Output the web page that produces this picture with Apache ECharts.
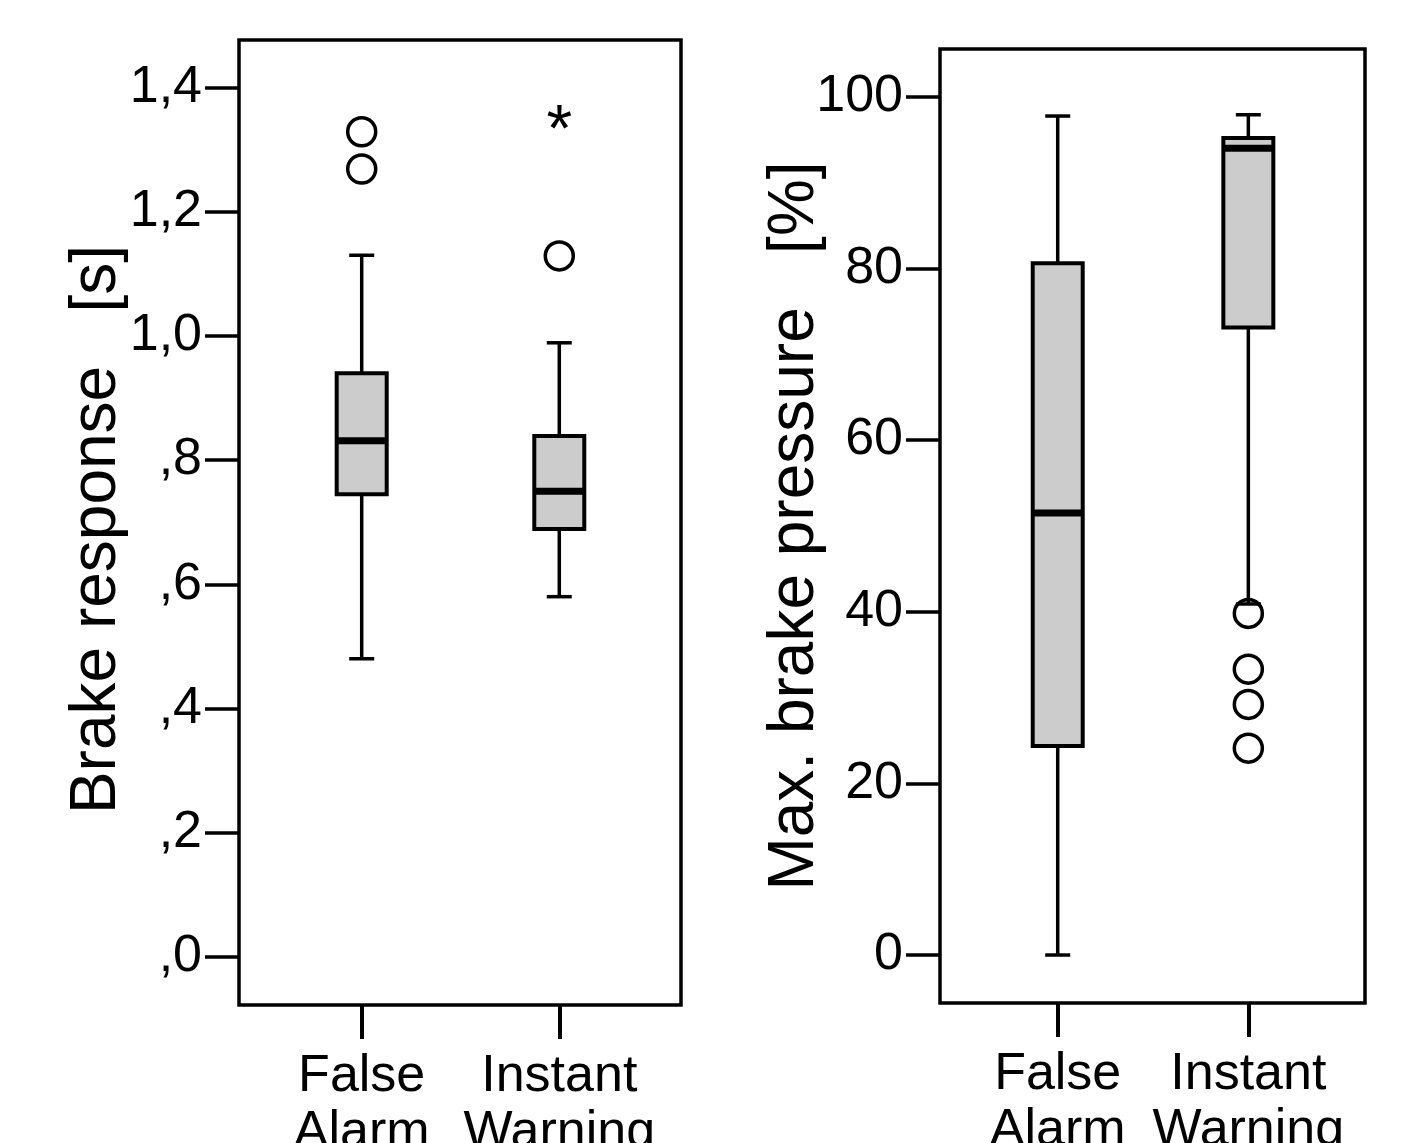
<!DOCTYPE html>
<html>
<head>
<meta charset="utf-8">
<script src="https://cdn.jsdelivr.net/npm/echarts@6/dist/echarts.min.js"></script>
<style>
html,body{margin:0;padding:0;background:#fff;}
#chart{width:1412px;height:1143px;}
</style>
</head>
<body>
<div id="chart"></div>
<script>
// ---- data ----
const categories = ['False\nAlarm', 'Instant\nWarning'];
// [min, Q1, median, Q3, max]
const responseBoxes = [
  [0.480, 0.745, 0.831, 0.940, 1.130],
  [0.580, 0.689, 0.750, 0.839, 0.989]
];
const responseOutliers = [[0, 1.329], [0, 1.269], [1, 1.129]];
const responseExtremes = [[1, 1.349]];
const responseTicks = [0, 0.2, 0.4, 0.6, 0.8, 1.0, 1.2, 1.4];
const responseTickLabels = [',0', ',2', ',4', ',6', ',8', '1,0', '1,2', '1,4'];

const pressureBoxes = [
  [0, 24.35, 51.5, 80.6, 97.75],
  [40.9, 73.1, 94.0, 95.2, 97.9]
];
const pressureOutliers = [[1, 39.8], [1, 33.3], [1, 29.2], [1, 24.1]];
const pressureTicks = [0, 20, 40, 60, 80, 100];
const pressureTickLabels = ['0', '20', '40', '60', '80', '100'];

const responseName = 'Brake response   [s]';
const pressureName = 'Max. brake pressure   [%]';

// ---- chart ----
const FONT = "'Liberation Sans', Arial, sans-serif";
const chart = echarts.init(document.getElementById('chart'), null, {renderer: 'canvas'});

function boxRender(params, api) {
  const x = api.value(0);
  const c = (v) => api.coord([x, v]);
  const cx = c(api.value(3))[0];
  const yMin = c(api.value(1))[1];
  const yQ1 = c(api.value(2))[1];
  const yMed = c(api.value(3))[1];
  const yQ3 = c(api.value(4))[1];
  const yMax = c(api.value(5))[1];
  const bw = 50, cw = 25;
  const ls = {stroke: '#000', lineWidth: 3.5};
  return {
    type: 'group',
    children: [
      {type: 'line', shape: {x1: cx, y1: yMax, x2: cx, y2: yQ3}, style: ls},
      {type: 'line', shape: {x1: cx, y1: yQ1, x2: cx, y2: yMin}, style: ls},
      {type: 'line', shape: {x1: cx - cw / 2, y1: yMax, x2: cx + cw / 2, y2: yMax}, style: ls},
      {type: 'line', shape: {x1: cx - cw / 2, y1: yMin, x2: cx + cw / 2, y2: yMin}, style: ls},
      {type: 'rect', shape: {x: cx - bw / 2, y: yQ3, width: bw, height: yQ1 - yQ3},
        style: {fill: '#cccccc', stroke: '#000', lineWidth: 4}},
      {type: 'line', shape: {x1: cx - bw / 2, y1: yMed, x2: cx + bw / 2, y2: yMed},
        style: {stroke: '#000', lineWidth: 7}}
    ]
  };
}

function xAxisCfg(gridIndex, min, max) {
  return {
    type: 'value', gridIndex, min, max,
    axisLine: {show: false, onZero: false},
    splitLine: {show: false},
    axisTick: {show: true, customValues: [0, 1], length: 34, lineStyle: {color: '#000', width: 4}},
    axisLabel: {
      show: true, customValues: [0, 1], margin: 44,
      formatter: (v) => categories[Math.round(v)],
      fontFamily: FONT, fontSize: 52, color: '#000', lineHeight: 56
    }
  };
}

function yAxisCfg(gridIndex, min, max, ticks, labels, name, gap, pad) {
  return {
    type: 'value', gridIndex, min, max,
    axisLine: {show: false, onZero: false},
    splitLine: {show: false},
    axisTick: {show: true, customValues: ticks, length: 34, lineStyle: {color: '#000', width: 3.5}},
    axisLabel: {
      show: true, customValues: ticks, margin: 37,
      formatter: (v) => {
        let best = 0;
        ticks.forEach((t, i) => { if (Math.abs(t - v) < Math.abs(ticks[best] - v)) best = i; });
        return labels[best];
      },
      fontFamily: FONT, fontSize: 52, color: '#000'
    },
    name, nameLocation: 'middle', nameRotate: 90, nameGap: gap, nameMoveOverlap: false,
    nameTextStyle: {fontFamily: FONT, fontSize: 64, color: '#000', padding: pad}
  };
}

const outlierStyle = {color: 'rgba(0,0,0,0)', borderColor: '#000', borderWidth: 3.5, opacity: 1};

const option = {
  backgroundColor: '#fff',
  animation: false,
  grid: [
    {left: 239, top: 40, width: 442, height: 965, show: true, borderColor: '#000', borderWidth: 3.5,
      backgroundColor: 'transparent', containLabel: false, outerBoundsMode: 'none'},
    {left: 940, top: 49, width: 425, height: 954, show: true, borderColor: '#000', borderWidth: 3.5,
      backgroundColor: 'transparent', containLabel: false, outerBoundsMode: 'none'}
  ],
  xAxis: [
    xAxisCfg(0, -0.621, 1.616),
    xAxisCfg(1, -0.6175, 1.612)
  ],
  yAxis: [
    yAxisCfg(0, -0.0778, 1.4768, responseTicks, responseTickLabels, responseName, 110, [0, 14, 0, 0]),
    yAxisCfg(1, -5.59, 105.56, pressureTicks, pressureTickLabels, pressureName, 113, [0, 0, 0, 0])
  ],
  series: [
    {type: 'custom', xAxisIndex: 0, yAxisIndex: 0, renderItem: boxRender,
      encode: {x: 0, y: [1, 2, 3, 4, 5]},
      data: responseBoxes.map((b, i) => [i].concat(b))},
    {type: 'custom', xAxisIndex: 1, yAxisIndex: 1, renderItem: boxRender,
      encode: {x: 0, y: [1, 2, 3, 4, 5]},
      data: pressureBoxes.map((b, i) => [i].concat(b))},
    {type: 'scatter', xAxisIndex: 0, yAxisIndex: 0, data: responseOutliers, z: 5,
      symbol: 'circle', symbolSize: 28, itemStyle: outlierStyle},
    {type: 'scatter', xAxisIndex: 1, yAxisIndex: 1, data: pressureOutliers, z: 5,
      symbol: 'circle', symbolSize: 28, itemStyle: outlierStyle},
    {type: 'scatter', xAxisIndex: 0, yAxisIndex: 0, data: responseExtremes, z: 5,
      symbol: 'circle', symbolSize: 1,
      itemStyle: {color: 'rgba(0,0,0,0)', opacity: 1},
      label: {show: true, position: 'inside', formatter: '*', fontFamily: FONT, fontSize: 66, color: '#000', offset: [0, 13]}}
  ]
};
chart.setOption(option);
</script>
</body>
</html>
